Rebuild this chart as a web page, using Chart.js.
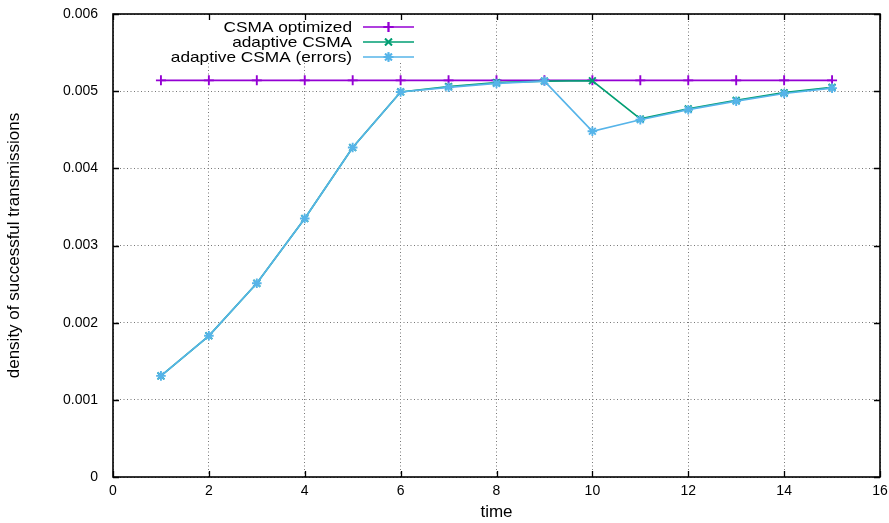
<!DOCTYPE html>
<html>
<head>
<meta charset="utf-8">
<script src="https://cdn.jsdelivr.net/npm/chart.js@4.4.1/dist/chart.umd.min.js"></script>
<style>
  html, body { margin: 0; padding: 0; background: #fff; }
  #wrap { width: 889px; height: 523px; position: relative; }
</style>
</head>
<body>
<div id="wrap"><canvas id="c" width="889" height="523"></canvas></div>
<script>
// time steps
const times = [1, 2, 3, 4, 5, 6, 7, 8, 9, 10, 11, 12, 13, 14, 15];

// density of successful transmissions per series
const csmaOptimized = [0.00514, 0.00514, 0.00514, 0.00514, 0.00514, 0.00514, 0.00514, 0.00514,
                       0.00514, 0.00514, 0.00514, 0.00514, 0.00514, 0.00514, 0.00514];
const adaptiveCsma = [0.00131, 0.00183, 0.00251, 0.00335, 0.00427, 0.00499, 0.00506, 0.00511,
                      0.00513, 0.005135, 0.00464, 0.00477, 0.00488, 0.00498, 0.00505];
const adaptiveCsmaErrors = [0.00131, 0.00183, 0.00251, 0.00335, 0.00427, 0.00499, 0.00505, 0.00510,
                            0.00513, 0.00448, 0.00463, 0.00476, 0.00487, 0.00497, 0.00504];

const seriesNames = ['CSMA optimized', 'adaptive CSMA', 'adaptive CSMA (errors)'];
const seriesColors = ['#9400d3', '#009e73', '#56b4e9'];
const seriesMarkers = ['cross', 'crossRot', 'star'];

const xTickLabels = ['0', '2', '4', '6', '8', '10', '12', '14', '16'];
const yTickLabels = ['0', '0.001', '0.002', '0.003', '0.004', '0.005', '0.006'];

const FONT = "'Liberation Sans', Arial, Helvetica, sans-serif";

function pts(ys) { return times.map((t, i) => ({ x: t, y: ys[i] })); }

const seriesValues = [csmaOptimized, adaptiveCsma, adaptiveCsmaErrors];
const datasets = seriesValues.map((vals, i) => ({
  label: seriesNames[i],
  data: pts(vals),
  borderColor: seriesColors[i],
  backgroundColor: seriesColors[i],
  borderWidth: 1.7,
  pointStyle: seriesMarkers[i],
  pointRadius: i === 0 ? 5 : 4.8,
  pointBorderWidth: 1.9,
  pointBorderColor: seriesColors[i],
  tension: 0,
  order: 2 - i
}));

// white panel behind the key, hiding the grid there
const keyPanel = {
  id: 'keyPanel',
  beforeDatasetsDraw(chart) {
    const ctx = chart.ctx;
    ctx.save();
    ctx.fillStyle = '#fff';
    ctx.fillRect(150, 15, 272, 48);
    ctx.restore();
  }
};

// frame, inward tick marks on all four sides, and the key
const frameAndKey = {
  id: 'frameAndKey',
  afterDatasetsDraw(chart) {
    const ctx = chart.ctx;
    const a = chart.chartArea;
    const xs = chart.scales.x, ys = chart.scales.y;
    const tl = 6;
    ctx.save();
    ctx.strokeStyle = '#000';
    ctx.lineWidth = 1.3;
    ctx.beginPath();
    xs.ticks.forEach(t => {
      const px = Math.round(xs.getPixelForValue(t.value)) + 0.5;
      ctx.moveTo(px, a.bottom); ctx.lineTo(px, a.bottom - tl);
      ctx.moveTo(px, a.top); ctx.lineTo(px, a.top + tl);
    });
    ys.ticks.forEach(t => {
      const py = Math.round(ys.getPixelForValue(t.value)) + 0.5;
      ctx.moveTo(a.left, py); ctx.lineTo(a.left + tl, py);
      ctx.moveTo(a.right, py); ctx.lineTo(a.right - tl, py);
    });
    ctx.stroke();
    ctx.lineWidth = 1.6;
    ctx.strokeRect(a.left, a.top, a.right - a.left, a.bottom - a.top);

    // key
    const rowsY = [27, 42, 57];
    const textRight = 352, lx0 = 363, lx1 = 414, mx = (lx0 + lx1) / 2;
    chart.data.datasets.forEach((ds, i) => {
      const y = rowsY[i];
      ctx.save();
      ctx.font = '15px ' + FONT;
      ctx.fillStyle = '#000';
      ctx.textAlign = 'right';
      ctx.textBaseline = 'middle';
      ctx.translate(textRight, y + 1);
      ctx.scale(1.15, 1);
      ctx.fillText(ds.label, 0, 0);
      ctx.restore();
      ctx.strokeStyle = ds.borderColor;
      ctx.lineWidth = 1.7;
      ctx.beginPath();
      ctx.moveTo(lx0, y); ctx.lineTo(lx1, y);
      ctx.stroke();
      Chart.helpers.drawPoint(ctx, {
        pointStyle: ds.pointStyle, radius: ds.pointRadius, borderWidth: ds.pointBorderWidth, rotation: 0
      }, mx, y);
      ctx.fillStyle = ds.borderColor;
      ctx.lineWidth = ds.pointBorderWidth;
      ctx.stroke();
    });
    ctx.restore();
  }
};

new Chart(document.getElementById('c'), {
  type: 'line',
  data: { datasets },
  options: {
    responsive: false,
    animation: false,
    layout: { padding: { top: 14, right: 9, left: 0, bottom: 0 } },
    plugins: { legend: { display: false }, tooltip: { enabled: false } },
    scales: {
      x: {
        type: 'linear', min: 0, max: 16,
        afterFit(s) { s.height = 46; s.paddingLeft = 0; s.paddingRight = 0; },
        afterBuildTicks(s) { s.ticks = xTickLabels.map(v => ({ value: Number(v) })); },
        ticks: {
          autoSkip: false, maxRotation: 0, padding: 6, color: '#000',
          font: { family: FONT, size: 14 },
          callback: (v, i) => xTickLabels[i]
        },
        grid: { color: '#777', lineWidth: 1, drawTicks: false },
        border: { display: false, dash: [1, 2.5] },
        title: {
          display: true, text: 'time', color: '#000',
          font: { family: FONT, size: 17 }, padding: { top: 0, bottom: 0 }
        }
      },
      y: {
        type: 'linear', min: 0, max: 0.006,
        afterFit(s) { s.width = 113; s.paddingTop = 0; s.paddingBottom = 0; },
        afterBuildTicks(s) { s.ticks = yTickLabels.map(v => ({ value: Number(v) })); },
        ticks: {
          autoSkip: false, padding: 15, color: '#000',
          font: { family: FONT, size: 14 },
          callback: (v, i) => yTickLabels[i]
        },
        grid: { color: '#777', lineWidth: 1, drawTicks: false },
        border: { display: false, dash: [1, 2.5] },
        title: {
          display: true, text: 'density of successful transmissions', color: '#000',
          font: { family: FONT, size: 17 }, padding: { top: 3.8, bottom: 0 }
        }
      }
    }
  },
  plugins: [keyPanel, frameAndKey]
});
</script>
</body>
</html>
